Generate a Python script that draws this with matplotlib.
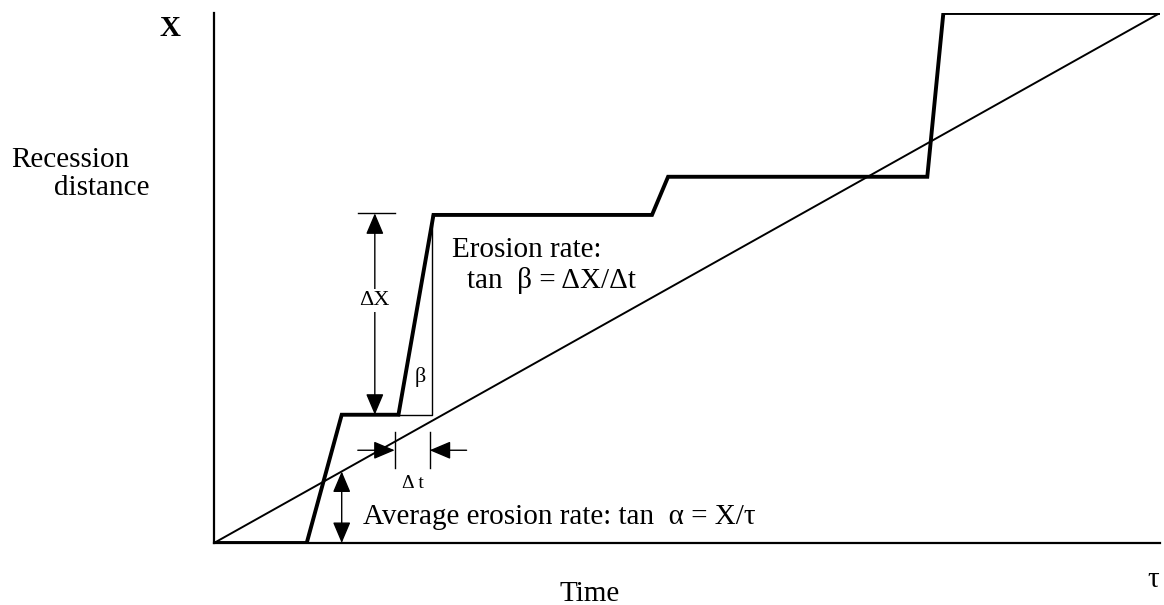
import matplotlib
matplotlib.use("Agg")
import matplotlib.pyplot as plt

plt.rcParams['font.family'] = ['Liberation Serif', 'DejaVu Serif']

# Episodic recession history (time and distance as % of tau and X)
step_t = [0.0, 9.8, 13.5, 19.5, 23.2, 46.3, 48.0, 75.4, 77.1, 100.0]
step_x = [0.0, 0.0, 24.2, 24.2, 61.9, 61.9, 69.1, 69.1, 100.0, 100.0]

# Constant average rate from origin to (tau, X)
avg_t = [0.0, 100.0]
avg_x = [0.0, 100.0]

# Erosion event used to define tan(beta)
event_t0, event_t1 = 19.5, 23.2
event_x0, event_x1 = 24.2, 61.9

# Point on the average line used to show tan(alpha)
alpha_t = 13.5

fig = plt.figure(figsize=(11.64, 6.05), dpi=100, facecolor='white')
W, H = 1164, 605
ax = fig.add_axes([214 / W, (H - 543) / H, 946 / W, 530 / H])
ax.set_xlim(0, 100)
ax.set_ylim(0, 100)
ax.set_xticks([])
ax.set_yticks([])
for s in ('top', 'right'):
    ax.spines[s].set_visible(False)
for s in ('left', 'bottom'):
    ax.spines[s].set_linewidth(1.6)

ax.plot(avg_t, avg_x, color='black', lw=1.4, solid_capstyle='butt', zorder=3)
ax.plot(step_t, step_x, color='black', lw=2.8, solid_joinstyle='miter', zorder=4)

# Thin construction lines closing the beta triangle
ax.plot([event_t0, event_t1 - 0.2, event_t1 - 0.2], [event_x0, event_x0, event_x1],
        color='black', lw=1.0, zorder=2)

head = dict(color='black', lw=1.0, shrinkA=0, shrinkB=0, mutation_scale=10)
style2 = '<|-|>,head_length=1.3,head_width=0.55'
style1 = '-|>,head_length=1.3,head_width=0.55'

# Delta X arrow with end bar
dx_t = 17.0
ax.plot([15.2, 19.1], [event_x1 + 0.3, event_x1 + 0.3], color='black', lw=1.0)
ax.annotate('', xy=(dx_t, event_x1 + 0.3), xytext=(dx_t, event_x0),
            arrowprops=dict(arrowstyle=style2, **head))
ax.text(dx_t, 45.8, 'ΔX', ha='center', va='center', fontsize=16,
        bbox=dict(facecolor='white', edgecolor='none', pad=1.5), zorder=5)
ax.text(21.8, 31.3, 'β', ha='center', va='center', fontsize=16)

# Delta t marks
dt_y = 17.5
for tt in (19.1, 22.8):
    ax.plot([tt, tt], [14.2, 20.9], color='black', lw=1.0)
ax.annotate('', xy=(19.1, dt_y), xytext=(15.2, dt_y),
            arrowprops=dict(arrowstyle=style1, **head))
ax.annotate('', xy=(22.8, dt_y), xytext=(26.7, dt_y),
            arrowprops=dict(arrowstyle=style1, **head))
ax.text(21.0, 11.3, 'Δ t', ha='center', va='center', fontsize=14)

# Average rate arrow
ax.annotate('', xy=(alpha_t, alpha_t), xytext=(alpha_t, 0),
            arrowprops=dict(arrowstyle=style2, **head))

ax.text(25.2, 55.3, 'Erosion rate:', ha='left', va='center', fontsize=21)
ax.text(26.7, 49.6, 'tan  β = ΔX/Δt', ha='left', va='center', fontsize=21)
ax.text(15.75, 4.9, 'Average erosion rate: tan  α = X/τ', ha='left', va='center',
        fontsize=21)

ax.text(-4.65, 97.0, 'X', ha='center', va='center', fontsize=21, fontweight='bold')
ax.text(-15.2, 72.3, 'Recession', ha='center', va='center', fontsize=21)
ax.text(-11.9, 67.0, 'distance', ha='center', va='center', fontsize=21)
ax.text(39.7, -9.6, 'Time', ha='center', va='center', fontsize=21)
ax.text(99.3, -7.0, 'τ', ha='center', va='center', fontsize=21)

fig.savefig('out.png', dpi=100, facecolor='white')
